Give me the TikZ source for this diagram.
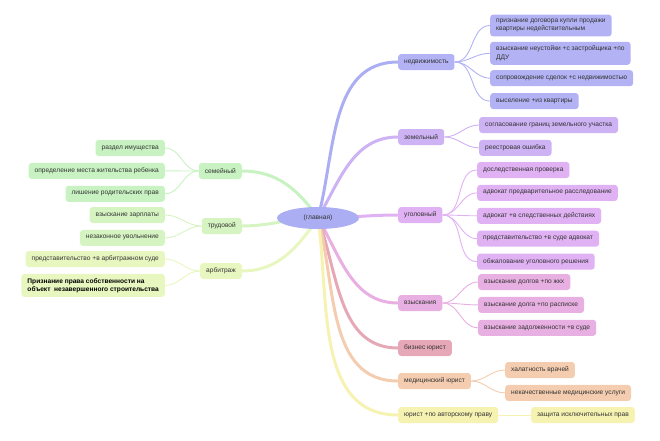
\documentclass[tikz,border=0pt]{standalone}
\usepackage{fontspec}
\setmainfont{Liberation Sans}
\usetikzlibrary{positioning,backgrounds,shapes.geometric}

\definecolor{cMain}{HTML}{ABAEF2}
\definecolor{cNed}{HTML}{B2B2F4}
\definecolor{cZem}{HTML}{CDB2F4}
\definecolor{cUgol}{HTML}{E0B2F4}
\definecolor{cVzysk}{HTML}{E8B0E2}
\definecolor{cBiz}{HTML}{E6A8B6}
\definecolor{cMed}{HTML}{F4CDB0}
\definecolor{cAvt}{HTML}{F6F2B2}
\definecolor{cSem}{HTML}{C8F2C2}
\definecolor{cTrud}{HTML}{D6F4C2}
\definecolor{cArb}{HTML}{E8F6C0}

\begin{document}
\begin{tikzpicture}[
    x=1pt, y=-1pt,
    node distance=6.5pt,
    topic/.style={rounded corners=3pt, align=left, font=\fontsize{6.6}{8.2}\selectfont, text=black!80, inner xsep=6pt, inner ysep=4.3pt, minimum height=16pt},
    branch/.style={line width=3pt, line cap=round},
    twig/.style={line width=0.9pt}
  ]
  \useasboundingbox (0,0) rectangle (660,440);

  % centre
  \node[ellipse, fill=cMain, minimum width=82pt, minimum height=22pt, font=\fontsize{6.6}{8}\selectfont, text=black!80] (main) at (318,218) {(главная)};

  % right side
  \node[topic, fill=cNed, anchor=west] (ned) at (398,62) {недвижимость};
  \node[topic, fill=cNed, anchor=west] (ned1) at (490,25.5) {признание договора купли продажи\\квартиры недействительным};
  \node[topic, fill=cNed, below=5pt of ned1.south west, anchor=north west] (ned2) {взыскание неустойки +с застройщика +по\\ДДУ};
  \node[topic, fill=cNed, below=5pt of ned2.south west, anchor=north west] (ned3) {сопровождение сделок +с недвижимостью};
  \node[topic, fill=cNed, below=6.5pt of ned3.south west, anchor=north west] (ned4) {выселение +из квартиры};

  \node[topic, fill=cZem, anchor=west] (zem) at (398,137) {земельный};
  \node[topic, fill=cZem, anchor=west] (zem1) at (479,125) {согласование границ земельного участка};
  \node[topic, fill=cZem, below=of zem1.south west, anchor=north west] (zem2) {реестровая ошибка};

  \node[topic, fill=cUgol, anchor=west] (ugol) at (398,215) {уголовный};
  \node[topic, fill=cUgol, anchor=west] (ugol1) at (477,170) {доследственная проверка};
  \node[topic, fill=cUgol, below=of ugol1.south west, anchor=north west] (ugol2) {адвокат предварительное расследование};
  \node[topic, fill=cUgol, below=of ugol2.south west, anchor=north west] (ugol3) {адвокат +в следственных действиях};
  \node[topic, fill=cUgol, below=of ugol3.south west, anchor=north west] (ugol4) {представительство +в суде адвокат};
  \node[topic, fill=cUgol, below=of ugol4.south west, anchor=north west] (ugol5) {обжалование уголовного решения};

  \node[topic, fill=cVzysk, anchor=west] (vzysk) at (398,303) {взыскания};
  \node[topic, fill=cVzysk, anchor=west] (vzysk1) at (478,282) {взыскание долгов +по жкх};
  \node[topic, fill=cVzysk, below=of vzysk1.south west, anchor=north west] (vzysk2) {взыскание долга +по расписке};
  \node[topic, fill=cVzysk, below=of vzysk2.south west, anchor=north west] (vzysk3) {взыскание задолженности +в суде};

  \node[topic, fill=cBiz, anchor=west] (biz) at (398,348) {бизнес юрист};

  \node[topic, fill=cMed, anchor=west] (med) at (398,381) {медицинский юрист};
  \node[topic, fill=cMed, anchor=west] (med1) at (505,370) {халатность врачей};
  \node[topic, fill=cMed, below=of med1.south west, anchor=north west] (med2) {некачественные медицинские услуги};

  \node[topic, fill=cAvt, anchor=west] (avt) at (398,415) {юрист +по авторскому праву};
  \node[topic, fill=cAvt, anchor=west] (avt1) at (531,415) {защита исключительных прав};

  % left side
  \node[topic, fill=cSem, anchor=east] (sem) at (242,171) {семейный};
  \node[topic, fill=cSem, anchor=east] (sem1) at (165,148) {раздел имущества};
  \node[topic, fill=cSem, below=of sem1.south east, anchor=north east] (sem2) {определение места жительства ребенка};
  \node[topic, fill=cSem, below=of sem2.south east, anchor=north east] (sem3) {лишение родительских прав};

  \node[topic, fill=cTrud, anchor=east] (trud) at (242,226) {трудовой};
  \node[topic, fill=cTrud, anchor=east] (trud1) at (165,215) {взыскание зарплаты};
  \node[topic, fill=cTrud, below=of trud1.south east, anchor=north east] (trud2) {незаконное увольнение};

  \node[topic, fill=cArb, anchor=east] (arb) at (242,271) {арбитраж};
  \node[topic, fill=cArb, anchor=east] (arb1) at (165,259) {представительство +в арбитражном суде};
  \node[topic, fill=cArb, below=of arb1.south east, anchor=north east, font=\fontsize{6.6}{8.2}\selectfont\bfseries, text=black] (arb2) {Признание права собственности на\\объект~ незавершенного строительства};

  \begin{scope}[on background layer]
    % main branches
    \draw[branch, cMain] (main.center) to[out=75, in=180] (ned.west);
    \draw[branch, cZem] (main.center) to[out=60, in=180] (zem.west);
    \draw[branch, cUgol] (main.center) to[out=0, in=180] (ugol.west);
    \draw[branch, cVzysk] (main.center) to[out=-60, in=180] (vzysk.west);
    \draw[branch, cBiz] (main.center) to[out=-70, in=180] (biz.west);
    \draw[branch, cMed] (main.center) to[out=-75, in=180] (med.west);
    \draw[branch, cAvt] (main.center) to[out=-82, in=180] (avt.west);
    \draw[branch, cSem] (main.center) to[out=125, in=0] (sem.east);
    \draw[branch, cTrud] (main.center) to[out=180, in=0] (trud.east);
    \draw[branch, cArb] (main.center) to[out=235, in=0] (arb.east);

    % sub branches
    \foreach \c in {ned1,ned2,ned3,ned4}
      \draw[twig, cNed] (ned.east) to[out=0, in=180] (\c.west);
    \foreach \c in {zem1,zem2}
      \draw[twig, cZem] (zem.east) to[out=0, in=180] (\c.west);
    \foreach \c in {ugol1,ugol2,ugol3,ugol4,ugol5}
      \draw[twig, cUgol] (ugol.east) to[out=0, in=180] (\c.west);
    \foreach \c in {vzysk1,vzysk2,vzysk3}
      \draw[twig, cVzysk] (vzysk.east) to[out=0, in=180] (\c.west);
    \foreach \c in {med1,med2}
      \draw[twig, cMed] (med.east) to[out=0, in=180] (\c.west);
    \draw[twig, cAvt] (avt.east) -- (avt1.west);
    \foreach \c in {sem1,sem2,sem3}
      \draw[twig, cSem] (sem.west) to[out=180, in=0] (\c.east);
    \foreach \c in {trud1,trud2}
      \draw[twig, cTrud] (trud.west) to[out=180, in=0] (\c.east);
    \foreach \c in {arb1,arb2}
      \draw[twig, cArb] (arb.west) to[out=180, in=0] (\c.east);
  \end{scope}
\end{tikzpicture}
\end{document}
